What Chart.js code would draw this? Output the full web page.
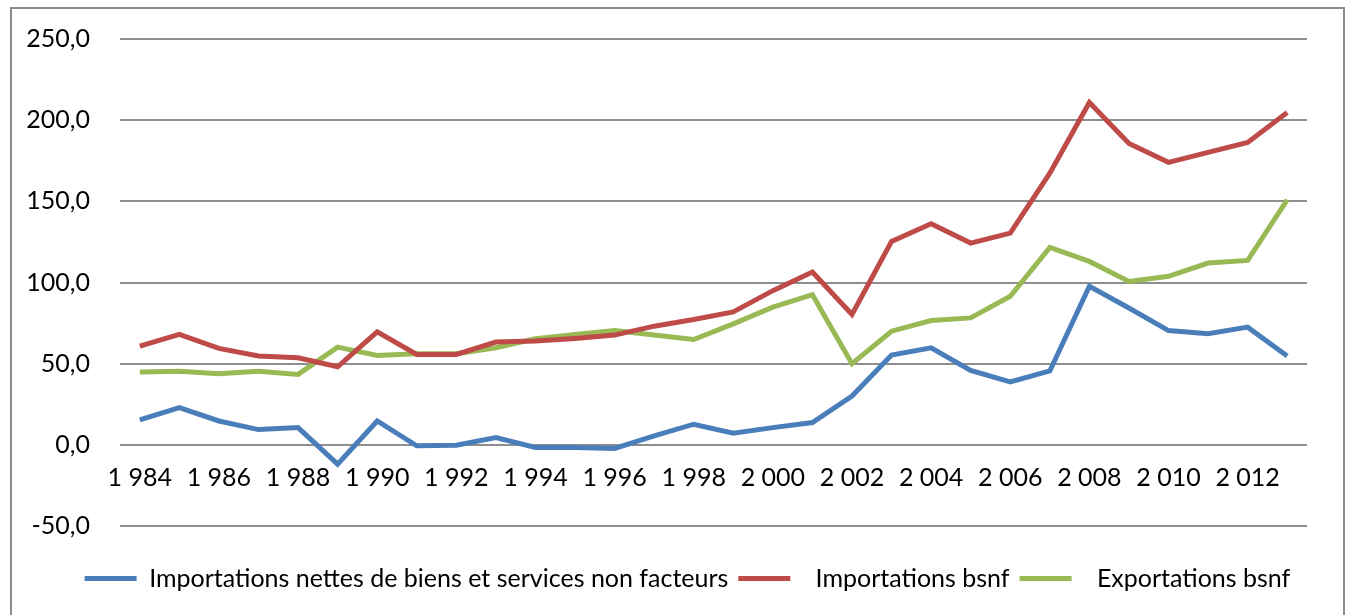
<!DOCTYPE html>
<html>
<head>
<meta charset="utf-8">
<script src="https://cdn.jsdelivr.net/npm/chart.js@4/dist/chart.umd.min.js"></script>
<style>
  body { margin: 0; background: #fff; overflow: hidden; }
  #frame { position: absolute; left: 10px; top: 7px; width: 1331px; height: 640px; border: 2px solid #8c8c8c; }
  #wrap { position: absolute; left: 0; top: -15px; width: 1331px; height: 621px; }
</style>
</head>
<body>
<div id="frame"><div id="wrap"><canvas id="myLineChart"></canvas></div></div>
<script>
// annees 1984 - 2013
const years = ['1984', '1985', '1986', '1987', '1988', '1989', '1990', '1991', '1992', '1993',
    '1994', '1995', '1996', '1997', '1998', '1999', '2000', '2001', '2002', '2003',
    '2004', '2005', '2006', '2007', '2008', '2009', '2010', '2011', '2012', '2013'];

const importNettes = [15.4, 22.9, 14.7, 9.4, 10.6, -11.9, 14.7, -0.6, -0.2, 4.5,
    -1.6, -1.7, -2.2, 5.5, 12.7, 7.2, 10.6, 13.7, 30.1, 55.3,
    59.8, 45.9, 38.7, 45.5, 97.7, 84.3, 70.4, 68.4, 72.5, 54.7];

const importBsnf = [60.8, 68.0, 59.4, 54.7, 53.6, 48.1, 69.6, 55.7, 55.7, 63.3,
    63.9, 65.5, 67.6, 73.1, 77.2, 81.9, 95.0, 106.5, 80.3, 125.3,
    136.2, 124.3, 130.4, 167.3, 210.9, 185.7, 174.0, 180.2, 186.3, 204.7];

const exportBsnf = [44.8, 45.3, 43.8, 45.3, 43.4, 60.2, 55.1, 56.1, 56.1, 59.8,
    65.3, 68.0, 70.4, 67.6, 64.9, 74.5, 84.8, 92.5, 50.0, 70.0,
    76.6, 78.2, 91.5, 121.6, 113.0, 100.7, 103.8, 112.0, 113.6, 150.9];

const seriesNames = ['Importations nettes de biens et services non facteurs', '  Importations bsnf', '  Exportations bsnf'];
const colors = ['#4A7EBB', '#BE4B48', '#98B954'];

Chart.defaults.font.family = 'Lato, "Open Sans", sans-serif';
Chart.defaults.font.size = 25;
Chart.defaults.color = '#000';

function makeSet(i, values) {
    return {
        label: seriesNames[i],
        data: values,
        borderColor: colors[i],
        backgroundColor: colors[i],
        borderWidth: 5,
        pointRadius: 0,
        tension: 0,
        fill: false
    };
}

// legend is centred on the whole frame, not only on the plot
const legendShift = {
    id: 'legendShift',
    afterLayout: function (c) {
        c.legend.left += 28;
        c.legend.right += 28;
    }
};

let ctx = document.getElementById('myLineChart').getContext('2d');
let chart = new Chart(ctx, {
    type: 'line',
    data: {
        labels: years,
        datasets: [
            makeSet(0, importNettes),
            makeSet(1, importBsnf),
            makeSet(2, exportBsnf)
        ]
    },
    plugins: [legendShift],
    options: {
        responsive: true,
        maintainAspectRatio: false,
        animation: false,
        layout: { padding: { top: 13, right: 36, left: 0, bottom: 14 } },
        plugins: {
            legend: {
                position: 'bottom',
                // empty title only used as spacer above the legend row
                title: { display: true, text: ' ', font: { size: 10 }, padding: { top: 0, bottom: 18 } },
                labels: {
                    boxWidth: 52,
                    boxHeight: 5,
                    padding: 10,
                    color: '#000',
                    font: { size: 25 },
                    generateLabels: function (c) {
                        let items = Chart.defaults.plugins.legend.labels.generateLabels(c);
                        items.forEach(function (it) { it.lineWidth = 0; });
                        return items;
                    }
                }
            },
            tooltip: { enabled: false }
        },
        scales: {
            x: {
                position: { y: 0 },
                offset: true,
                grid: { display: false },
                border: { display: false },
                ticks: {
                    autoSkip: false,
                    maxRotation: 0,
                    padding: 10,
                    callback: function (val, i) {
                        let y = years[i];
                        if (i % 2 !== 0) return '';
                        return y.charAt(0) + ' ' + y.slice(1);
                    }
                }
            },
            y: {
                min: -50,
                max: 250,
                afterFit: function (scale) { scale.width = 108; },
                grid: { color: '#8e8e8e', lineWidth: 2, drawTicks: false },
                border: { display: false },
                ticks: {
                    stepSize: 50,
                    padding: 30,
                    callback: function (v) { return v.toFixed(1).replace('.', ','); }
                }
            }
        }
    }
});
</script>
</body>
</html>
